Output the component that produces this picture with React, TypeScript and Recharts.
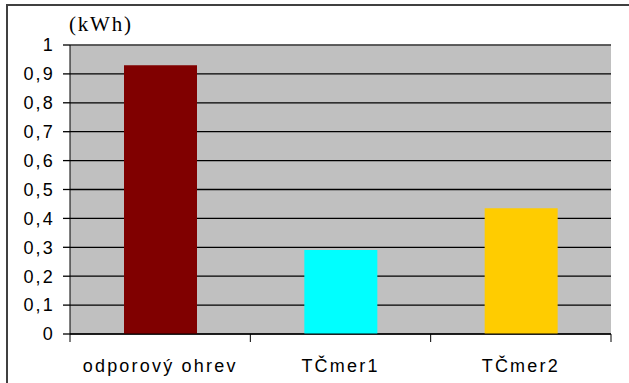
import React from "react";
import {
  BarChart,
  Bar,
  Cell,
  XAxis,
  YAxis,
  CartesianGrid,
  ReferenceLine,
} from "recharts";

const categories = ["odporový ohrev", "TČmer1", "TČmer2"];
const energy = [0.93, 0.291, 0.435];
const barColors = ["#800000", "#00FFFF", "#FFCC00"];
const yTicks = [0, 0.1, 0.2, 0.3, 0.4, 0.5, 0.6, 0.7, 0.8, 0.9, 1];
const unitLabel = "(kWh)";

const data = categories.map((name, i) => ({ name, value: energy[i] }));

const FONT = "'Liberation Sans', Arial, sans-serif";
const TICK = 7;
const X_MARGIN = 18;
const Y_MARGIN = 8;

const fmt = (v: number) => String(v).replace(".", ",");

// category label plus the small marks on the band edges
const XTick = (props: any) => {
  const { x, y, payload, index, visibleTicksCount } = props;
  const half = payload.offset || 90;
  const top = y - TICK - X_MARGIN;
  const last = index === visibleTicksCount - 1;
  return (
    <g>
      <line x1={x - half} x2={x - half} y1={top} y2={top + TICK + 1} stroke="#000" />
      {last && (
        <line x1={x + half} x2={x + half} y1={top} y2={top + TICK + 1} stroke="#000" />
      )}
      <text
        x={x}
        y={y}
        dy="0.71em"
        textAnchor="middle"
        fontFamily={FONT}
        fontSize={18}
        style={{ letterSpacing: 2.2 }}
        fill="#000"
      >
        {payload.value}
      </text>
    </g>
  );
};

const YTick = (props: any) => {
  const { x, y, payload } = props;
  const edge = x + Y_MARGIN + TICK;
  return (
    <g>
      <line x1={edge - TICK} x2={edge} y1={y} y2={y} stroke="#000" strokeWidth={1.3} />
      <text
        x={x}
        y={y}
        dy="0.355em"
        textAnchor="end"
        fontFamily={FONT}
        fontSize={18}
        style={{ letterSpacing: 2.2 }}
        fill="#000"
      >
        {fmt(payload.value)}
      </text>
    </g>
  );
};

const App = () => {
  return (
    <div
      style={{
        position: "absolute",
        left: 0,
        top: 0,
        width: 629,
        height: 383,
        overflow: "hidden",
        background: "#fff",
      }}
    >
      {/* outer frame, only left and top edges show */}
      <div
        style={{
          position: "absolute",
          left: 6,
          top: 4,
          width: 700,
          height: 500,
          borderLeft: "2px solid #404040",
          borderTop: "2px solid #404040",
        }}
      />
      <div
        style={{
          position: "absolute",
          left: 69,
          top: 12,
          fontFamily: "'Liberation Serif', 'Times New Roman', serif",
          fontSize: 21,
          letterSpacing: 1.8,
          color: "#000",
        }}
      >
        {unitLabel}
      </div>
      <div style={{ position: "absolute", left: 0, top: 0 }}>
        <BarChart
          width={629}
          height={383}
          data={data}
          margin={{ top: 45, right: 18, left: 0, bottom: 0 }}
          barSize={73}
        >
          <CartesianGrid
            xAxisId="cat"
            yAxisId="left"
            vertical={false}
            fill="#C0C0C0"
            fillOpacity={1}
            stroke="#000"
            strokeWidth={1.3}
          />
          <XAxis
            xAxisId="cat"
            dataKey="name"
            height={49}
            tickLine={false}
            axisLine={{ stroke: "#000" }}
            tickSize={TICK}
            tickMargin={X_MARGIN}
            tick={<XTick />}
            interval={0}
          />
          <YAxis
            yAxisId="left"
            domain={[0, 1]}
            ticks={yTicks}
            width={70}
            tickSize={TICK}
            tickMargin={Y_MARGIN}
            axisLine={{ stroke: "#000" }}
            tickLine={false}
            tick={<YTick />}
            interval={0}
          />
          <YAxis
            yAxisId="right"
            orientation="right"
            domain={[0, 1]}
            width={0}
            tick={false}
            tickLine={false}
            axisLine={{ stroke: "#808080" }}
          />
          <ReferenceLine
            yAxisId="left"
            xAxisId="cat"
            y={1}
            stroke="#808080"
          />
          <Bar
            dataKey="value"
            xAxisId="cat"
            yAxisId="left"
            isAnimationActive={false}
          >
            {data.map((d, i) => (
              <Cell key={d.name} fill={barColors[i]} />
            ))}
          </Bar>
        </BarChart>
      </div>
    </div>
  );
};

export default App;
